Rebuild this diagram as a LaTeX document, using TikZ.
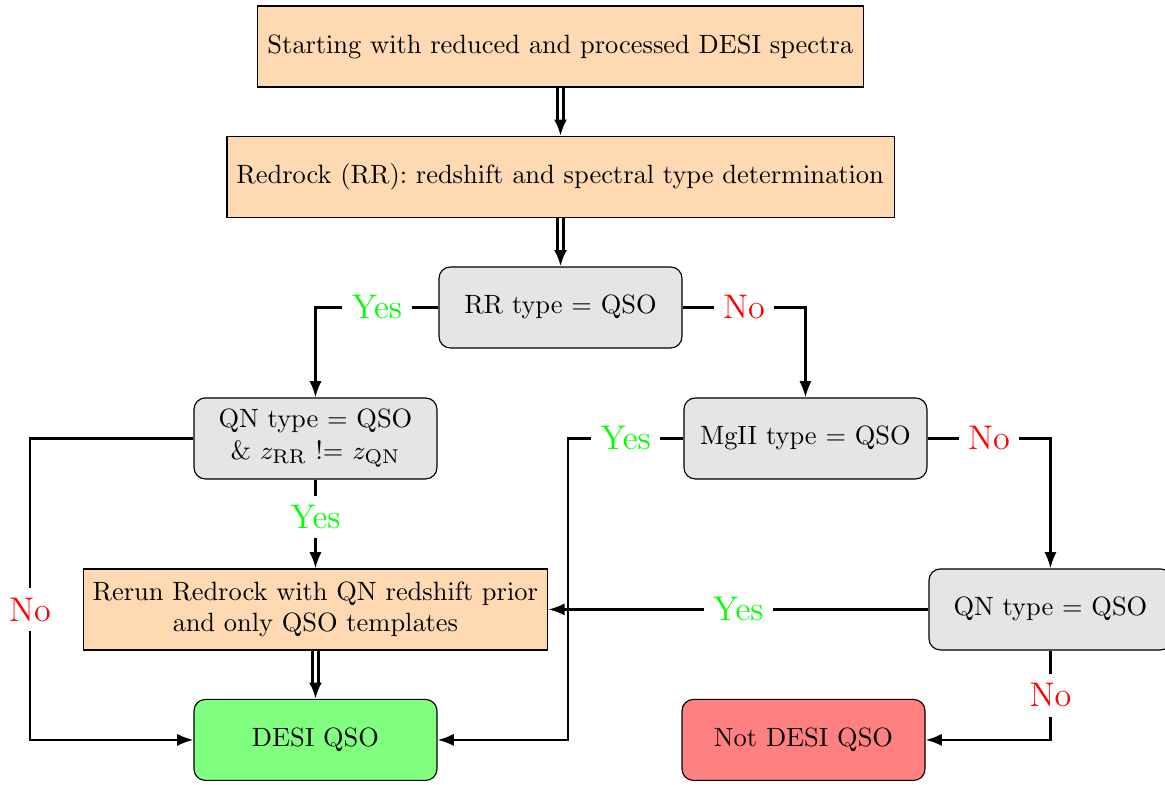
\documentclass[tikz,border=0pt]{standalone}
\usepackage{amsmath}
\usepackage{tikz}
\usepackage{xcolor}
\usetikzlibrary{arrows.meta, positioning}
\DeclareFontFamily{OT1}{cmrten}{}
\DeclareFontShape{OT1}{cmrten}{m}{n}{<-> cmr10}{}
\definecolor{cYes}{RGB}{0,255,0}
\definecolor{cNo}{RGB}{255,0,0}
\tikzset{
	procbox/.style  ={rectangle, minimum height=1cm, text centered, align=center, draw=black, fill=orange!30},
	testbox/.style  ={rectangle, rounded corners, minimum width=3cm, minimum height=1cm, text centered, align=center, draw=black, fill=gray!20},
	qsobox/.style   ={testbox, fill=green!50},
	notqsobox/.style={testbox, fill=red!50},
	flowarrow/.style={-{Latex[length=2mm, width=1.5mm]}, thick},
	dblarrow/.style ={-{Latex[length=2mm, width=1.6mm]}, line width=1.2pt, double, double distance=0.8pt},
	% branch labels
	yeslbl/.style   ={fill=white, text=cYes, font=\large},
	nolbl/.style    ={fill=white, text=cNo, font=\large},
}

\begin{document}
\begin{tikzpicture}[font=\fontencoding{OT1}\fontfamily{cmrten}\fontsize{9.29}{11.15}\selectfont]
	\useasboundingbox (0,0) rectangle (14.383,9.691);
	\node[procbox] (start) at (6.920,9.117) {Starting with reduced and processed DESI spectra};
	\node[procbox] (rr) at (6.920,7.506) {Redrock (RR): redshift and spectral type determination};
	\node[testbox] (rrtype) at (6.920,5.895) {RR type = QSO};
	\node[testbox] (qnone) at (3.895,4.278) {QN type = QSO\\\& $z_{\mathrm{RR}}$ != $z_{\mathrm{QN}}$};
	\node[testbox] (mgii) at (9.944,4.278) {MgII type = QSO};
	\node[procbox] (rerun) at (3.895,2.167) {Rerun Redrock with QN redshift prior\\and only QSO templates};
	\node[testbox] (qntwo) at (12.969,2.167) {QN type = QSO};
	\node[qsobox] (desi) at (3.895,0.556) {DESI QSO};
	\node[notqsobox] (notdesi) at (9.920,0.556) {Not DESI QSO};
	\coordinate (leftbend) at (0.370,4.278);
	\coordinate (midbend) at (7.012,4.278);

	\draw[dblarrow] (start) -- (rr);
	\draw[dblarrow] (rr) -- (rrtype);
	\draw[flowarrow] (rrtype.west) -| node[yeslbl, pos=0.25] {Yes} (qnone.north);
	\draw[flowarrow] (rrtype.east) -| node[nolbl, pos=0.25] {No} (mgii.north);
	\draw[flowarrow] (qnone.south) -- node[yeslbl, pos=0.42] {Yes} (rerun.north);
	\draw[flowarrow] (qnone.west) -- (leftbend) |- node[nolbl, pos=0.284] {No} (desi.west);
	\draw[flowarrow] (mgii.west) -- node[yeslbl] {Yes} (midbend) |- (desi.east);
	\draw[flowarrow] (mgii.east) -| node[nolbl, pos=0.25] {No} (qntwo.north);
	\draw[flowarrow] (qntwo.west) -- node[yeslbl] {Yes} (rerun.east);
	\draw[flowarrow] (qntwo.south) |- node[nolbl, pos=0.25] {No} (notdesi.east);
	\draw[dblarrow] (rerun) -- (desi);
\end{tikzpicture}
\end{document}
